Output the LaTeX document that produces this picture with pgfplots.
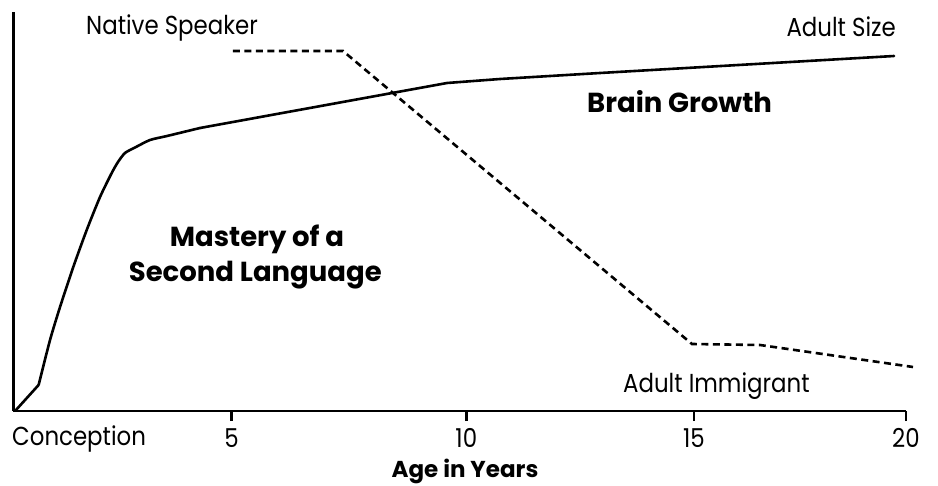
\documentclass[border=0pt]{standalone}
\usepackage{fontspec}
\setmainfont{Poppins}[FakeStretch=0.88, BoldFeatures={FakeStretch=1.0}]
\usepackage{pgfplots}
\pgfplotsset{compat=1.18}
\newcommand{\fs}{\fontsize{26bp}{28bp}\selectfont}
\newcommand{\fb}{\fontsize{27.5bp}{30bp}\selectfont\bfseries}
\newcommand{\fa}{\fontsize{23bp}{26bp}\selectfont\bfseries}
\begin{document}
\begin{tikzpicture}
\begin{axis}[
  x=44.63bp, y=1bp,
  xmin=0, xmax=20, ymin=0, ymax=399,
  axis x line*=bottom, axis y line*=left,
  axis line style={-, line width=2.6bp},
  ytick=\empty,
  xtick={4.89,10.15,15.25,20},
  xticklabels={5,10,15,20},
  tick align=outside,
  major tick length=10bp,
  tick style={black, line width=2.6bp},
  xticklabel style={font=\fs, anchor=base, yshift=-26bp},
  clip=false,
]
\addplot[black, line width=2.6bp, ycomb, mark=none, forget plot] coordinates {
(4.89,-10) (10.15,-10) (15.25,-10) (20,-10)
};
\addplot[black, line width=2.6bp, line join=round] coordinates {
(0.04,0) (0.567,26)
};
\addplot[black, line width=2.6bp, line join=round, line cap=round, smooth, tension=0.4] coordinates {
(0.567,26) (0.823,71) (1.047,104) (1.344,144) (1.645,181) (1.943,214)
(2.205,238) (2.346,249) (2.502,258) (2.727,263.5) (3.063,271) (3.444,275) (4.183,283)
};
\addplot[black, line width=2.6bp, line join=round, line cap=round] coordinates {
(4.183,283) (9.718,328) (10.905,332) (13.146,338) (19.734,355)
};
\addplot[black, line width=2.6bp, dash pattern=on 7bp off 4.5bp] coordinates {
(4.922,360) (7.387,360) (15.207,67) (16.731,66) (20.16,44)
};
\end{axis}
\node[anchor=base west, inner sep=0, font=\fs] at (72.7bp,376bp) {Native Speaker};
\node[anchor=base east, inner sep=0, font=\fs] at (882.7bp,374bp) {Adult Size};
\node[anchor=base west, inner sep=0, font=\fb] at (573.7bp,298bp) {Brain Growth};
\node[anchor=base, inner sep=0, font=\fb] at (243.7bp,164bp) {Mastery of a};
\node[anchor=base, inner sep=0, font=\fb] at (242bp,129bp) {Second Language};
\node[anchor=base west, inner sep=0, font=\fs] at (609.7bp,19bp) {Adult Immigrant};
\node[anchor=base west, inner sep=0, font=\fs] at (-1.3bp,-34bp) {Conception};
\node[anchor=base, inner sep=0, font=\fa] at (451.7bp,-66bp) {Age in Years};
\pgfresetboundingbox
\path[use as bounding box] (-13.3bp,-75bp) rectangle (924.7bp,411bp);
\end{tikzpicture}
\end{document}
